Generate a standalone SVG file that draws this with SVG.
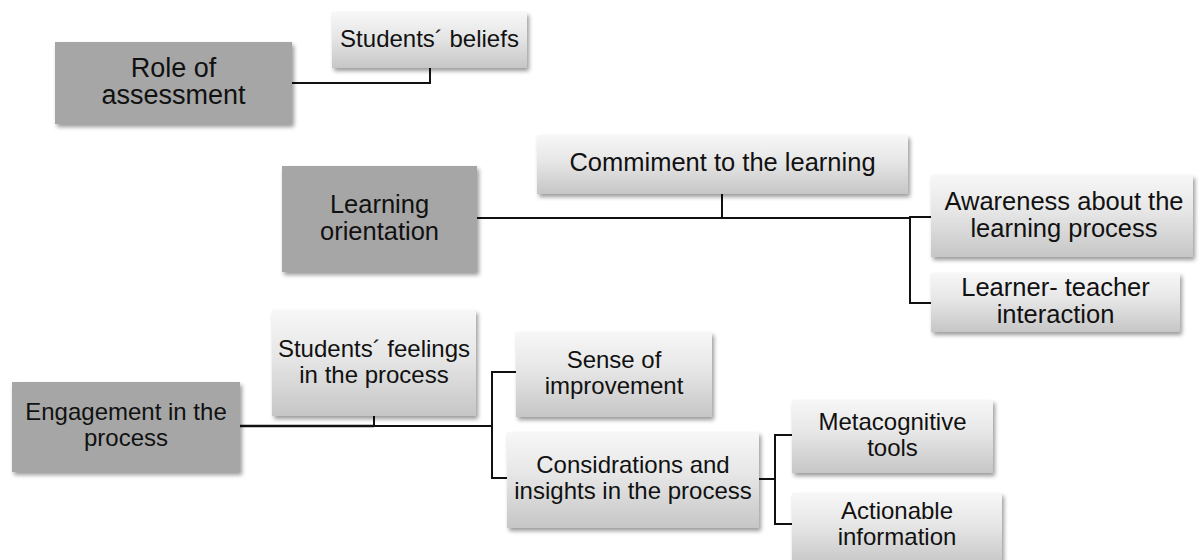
<svg xmlns="http://www.w3.org/2000/svg" width="1202" height="560" viewBox="0 0 1202 560">
  <defs>
    <linearGradient id="lightFill" x1="0" y1="0" x2="0" y2="1">
      <stop offset="0" stop-color="#f7f7f7"/>
      <stop offset="0.45" stop-color="#e6e6e6"/>
      <stop offset="1" stop-color="#c6c6c6"/>
    </linearGradient>
    <filter id="shadow" x="-10%" y="-10%" width="125%" height="135%">
      <feGaussianBlur in="SourceAlpha" stdDeviation="2"/>
      <feOffset dx="1.5" dy="3" result="off"/>
      <feComponentTransfer><feFuncA type="linear" slope="0.4"/></feComponentTransfer>
      <feMerge><feMergeNode/><feMergeNode in="SourceGraphic"/></feMerge>
    </filter>
  </defs>
  <style>
    .main { fill: #a6a6a6; filter: url(#shadow); }
    .sub { fill: url(#lightFill); filter: url(#shadow); }
    .lbl { font-family: "Liberation Sans", Arial, sans-serif; font-size: 24px; fill: #111; text-anchor: middle; }
    .big { font-size: 25.5px; }
    .xl { font-size: 27px; }
    .wire { fill: none; stroke: #111; stroke-width: 2; }
    .trunk { fill: none; stroke: #111; stroke-width: 2.6; }
  </style>

  <!-- connectors -->
  <g id="connectors">
    <path class="wire" d="M292 83 H430 V68"/>
    <path class="wire" d="M477 218 H910"/>
    <path class="wire" d="M722 194 V218"/>
    <path class="wire" d="M931 217 H910 V303 H931"/>
    <path class="trunk" d="M240 426 H374"/>
    <path class="wire" d="M374 416 V426 H492"/>
    <path class="wire" d="M516 372 H492 V478 H507"/>
    <path class="wire" d="M759 479 H775"/>
    <path class="wire" d="M792 435 H775 V524 H792"/>
  </g>

  <g id="role-of-assessment">
    <rect class="main" x="55" y="42" width="237" height="82"/>
    <text class="lbl xl" x="173.5" y="77">Role of</text>
    <text class="lbl xl" x="173.5" y="104">assessment</text>
  </g>

  <g id="students-beliefs">
    <rect class="sub" x="332" y="12" width="195" height="56"/>
    <text class="lbl" x="429.5" y="47">Students´ beliefs</text>
  </g>

  <g id="learning-orientation">
    <rect class="main" x="282" y="166" width="195" height="106"/>
    <text class="lbl big" x="379.5" y="213">Learning</text>
    <text class="lbl big" x="379.5" y="240">orientation</text>
  </g>

  <g id="commitment">
    <rect class="sub" x="537" y="135" width="371" height="59"/>
    <text class="lbl big" x="722.5" y="171">Commiment to the learning</text>
  </g>

  <g id="awareness">
    <rect class="sub" x="931" y="175" width="262" height="82"/>
    <text class="lbl big" x="1064" y="210">Awareness about the</text>
    <text class="lbl big" x="1064" y="237">learning process</text>
  </g>

  <g id="learner-teacher">
    <rect class="sub" x="931" y="273" width="249" height="59"/>
    <text class="lbl big" x="1055.5" y="296">Learner- teacher</text>
    <text class="lbl big" x="1055.5" y="323">interaction</text>
  </g>

  <g id="engagement">
    <rect class="main" x="12" y="382" width="228" height="90"/>
    <text class="lbl" x="126" y="420">Engagement in the</text>
    <text class="lbl" x="126" y="446">process</text>
  </g>

  <g id="students-feelings">
    <rect class="sub" x="272" y="310" width="204" height="106"/>
    <text class="lbl" x="374" y="357">Students´ feelings</text>
    <text class="lbl" x="374" y="383">in the process</text>
  </g>

  <g id="sense-of-improvement">
    <rect class="sub" x="516" y="332" width="196" height="85"/>
    <text class="lbl" x="614" y="368">Sense of</text>
    <text class="lbl" x="614" y="394">improvement</text>
  </g>

  <g id="considerations">
    <rect class="sub" x="507" y="432" width="252" height="96"/>
    <text class="lbl" x="633" y="473">Considrations and</text>
    <text class="lbl" x="633" y="499">insights in the process</text>
  </g>

  <g id="metacognitive">
    <rect class="sub" x="792" y="400" width="201" height="73"/>
    <text class="lbl" x="892.5" y="430">Metacognitive</text>
    <text class="lbl" x="892.5" y="456">tools</text>
  </g>

  <g id="actionable">
    <rect class="sub" x="792" y="493" width="210" height="72"/>
    <text class="lbl" x="897" y="519">Actionable</text>
    <text class="lbl" x="897" y="545">information</text>
  </g>
</svg>
